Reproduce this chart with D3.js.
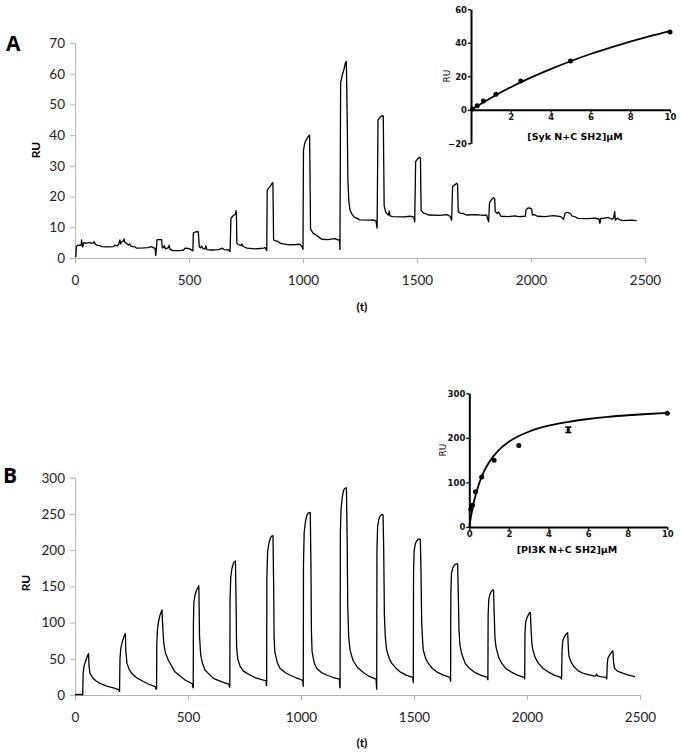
<!DOCTYPE html>
<html><head><meta charset="utf-8">
<script src="https://cdn.jsdelivr.net/npm/d3@7"></script>
<style>body{margin:0;background:#fff}svg{display:block}</style>
</head><body>
<svg id="c" width="681" height="754"></svg>
<script>
// ---------------- DATA ----------------
const xTicksMain = [0, 500, 1000, 1500, 2000, 2500];
const yTicksA = [0, 10, 20, 30, 40, 50, 60, 70];
const yTicksB = [0, 50, 100, 150, 200, 250, 300];

// Panel A sensorgram [t, RU]
const traceA = [
[0,0.4],[4,0.5],[6,3.7],[12,4.2],[22,4.1],[27,4.3],[29,5.9],[31,4.0],[34,3.6],[38,5.0],[50,4.8],[62,5.1],[70,4.8],[80,4.9],[84,5.3],[88,4.6],[95,4.2],[110,4.0],[118,3.7],[140,3.6],[168,3.7],[176,4.2],[185,3.9],[192,4.5],[197,5.9],[200,4.6],[204,5.2],[212,5.5],[215,6.2],[219,5.1],[226,4.8],[234,4.2],[240,4.6],[244,3.9],[255,3.7],[263,3.6],[270,3.2],[300,3.3],[320,3.4],[335,3.7],[345,3.3],[351,3.2],[354,0.8],[357,3.0],[360,6.0],[370,6.0],[380,6.0],[383,3.3],[388,3.5],[392,4.0],[396,3.0],[410,3.4],[413,4.2],[417,2.8],[430,2.4],[460,2.4],[476,2.6],[483,3.2],[497,3.1],[505,2.9],[517,2.3],[519,8.1],[525,8.4],[535,8.6],[541,8.5],[545,3.7],[550,3.3],[555,3.9],[560,3.2],[570,2.9],[574,3.9],[578,2.7],[600,2.6],[630,2.7],[647,3.2],[655,2.7],[675,2.6],[680,2.1],[684,12.8],[690,13.5],[698,14.0],[704,14.3],[706,15.4],[708,14.2],[710,4.8],[716,4.4],[728,4.0],[732,4.6],[736,3.9],[745,3.5],[755,3.2],[790,3.0],[810,3.1],[827,3.2],[834,3.4],[841,2.4],[843,22.0],[850,22.8],[857,23.4],[864,24.3],[868,24.5],[871,5.9],[880,5.6],[892,5.3],[900,4.8],[914,4.6],[940,4.3],[970,4.4],[987,4.5],[997,3.5],[1000,2.8],[1002,35.0],[1008,37.5],[1018,39.0],[1026,39.8],[1029,40.0],[1033,9.5],[1040,8.6],[1045,8.0],[1053,7.7],[1060,7.3],[1070,6.8],[1082,6.1],[1110,6.0],[1130,6.2],[1140,6.3],[1148,6.1],[1155,5.8],[1160,6.0],[1162,2.8],[1165,57.0],[1172,59.5],[1180,61.5],[1186,63.5],[1190,64.0],[1194,45.0],[1197,25.0],[1201,18.5],[1206,15.6],[1215,14.2],[1225,13.3],[1235,13.0],[1250,12.4],[1290,12.3],[1308,12.4],[1320,12.0],[1325,9.7],[1329,45.0],[1338,45.8],[1348,46.4],[1352,46.2],[1356,17.0],[1362,15.1],[1370,14.2],[1375,14.0],[1378,15.3],[1382,13.7],[1393,13.5],[1440,13.4],[1470,13.6],[1486,13.3],[1490,11.8],[1494,31.4],[1502,32.2],[1512,32.8],[1515,32.5],[1518,15.6],[1528,14.6],[1535,14.5],[1550,14.0],[1600,13.9],[1630,14.1],[1645,13.6],[1652,12.3],[1656,23.2],[1665,23.8],[1674,24.3],[1678,24.0],[1681,15.1],[1690,14.6],[1700,14.5],[1717,14.0],[1760,14.1],[1790,13.9],[1805,14.0],[1814,11.8],[1818,18.0],[1826,19.0],[1836,19.6],[1841,19.2],[1843,15.1],[1852,14.5],[1858,15.0],[1863,14.3],[1868,13.6],[1900,13.5],[1930,13.7],[1945,13.5],[1975,13.6],[1978,15.6],[1985,16.2],[1995,16.3],[2003,15.9],[2006,14.0],[2015,14.1],[2028,13.6],[2060,13.5],[2100,13.8],[2130,13.5],[2143,12.6],[2149,14.5],[2160,14.9],[2168,14.6],[2174,14.4],[2181,13.6],[2191,13.5],[2206,12.9],[2250,12.8],[2280,13.0],[2298,12.7],[2302,11.3],[2306,12.9],[2318,12.9],[2340,13.2],[2355,12.6],[2362,13.0],[2367,15.1],[2370,12.3],[2378,13.0],[2390,12.4],[2405,12.2],[2440,12.3],[2463,12.2]
];

// Panel B sensorgram [t, RU]
const traceB = [
[0,0.5],[20,0.8],[33,0.5],
[34,0],[36,30],[40,40],[46,46],[52,51],[58,56],[60,57],[62,40],[66,30],[80,23],[95,19],[111,16],[140,12.3],[170,9.7],[193,7.5],[196,5],
[197,5],[199,50],[203,65],[209,73],[215,79],[221,84],[223,85],[225,60],[230,44],[240,35],[251,30],[270,24.5],[288,21],[324,15.2],[355,11.5],[359,8],
[361,8],[362,70],[365,90],[370,102],[376,110],[382,115],[385,117.5],[388,95],[393,71],[400,58],[413,48],[442,32],[487,20.7],[519,15.5],[522,10],
[523,10],[524,100],[526,128],[531,138],[538,145],[545,149],[548,151],[551,81],[556,56],[563,45],[575,34.6],[612,23],[650,18],[680,15],[684,11],
[685,11],[686,130],[689,162],[694,174],[700,181],[705,184],[710,185],[713,120],[715,66],[720,50],[730,40],[745,33],[774,27.6],[800,23.5],[833,20.7],[845,19.5],[847,13],
[848,13],[849,160],[852,196],[857,208],[863,215],[868,219],[876,220],[879,150],[881,80],[884,60],[895,45],[907,37],[930,31],[951,27.6],[980,23.5],[1003,20.7],[1008,19.5],[1010,12],
[1011,180],[1014,224],[1019,238],[1025,247],[1031,251],[1041,252],[1044,180],[1046,90],[1049,60],[1058,45],[1069,37],[1090,31],[1113,27.6],[1140,24.5],[1170,22],[1172,10],
[1173,10],[1174,220],[1177,256],[1182,272],[1188,282],[1193,285],[1201,286],[1204,220],[1207,120],[1211,80],[1217,62],[1230,48],[1250,38],[1276,31],[1300,26],[1332,22],[1335,8],
[1336,200],[1339,232],[1344,242],[1350,247],[1356,249],[1363,249],[1366,200],[1369,110],[1373,80],[1379,62],[1391,50],[1401,44],[1420,37],[1438,32],[1465,27.5],[1494,24.4],[1497,17],
[1498,170],[1501,200],[1506,209],[1512,213],[1520,215],[1528,215],[1531,170],[1534,100],[1538,75],[1541,62],[1552,50],[1563,44],[1580,37],[1600,32],[1630,27.5],[1659,24.4],[1662,19],
[1663,140],[1666,168],[1671,175],[1678,179],[1686,181],[1693,181],[1696,140],[1699,90],[1703,70],[1710,58],[1726,44],[1745,37],[1765,32],[1795,27.5],[1824,24.4],[1827,21],
[1828,110],[1831,132],[1836,139],[1842,143],[1848,145],[1852,145],[1855,110],[1858,80],[1862,68],[1866,62],[1876,51],[1888,44],[1905,37],[1929,32],[1958,27.5],[1987,24.4],[1990,22],
[1991,85],[1994,100],[1999,106],[2005,110],[2011,113.5],[2015,114],[2018,90],[2022,70],[2026,62],[2036,52],[2050,44],[2070,37],[2094,32],[2120,27.5],[2149,24.4],[2153,22],
[2155,60],[2158,74],[2163,79],[2169,82.5],[2176,85],[2180,86],[2183,65],[2186,53],[2196,45],[2208,39],[2228,33],[2249,30],[2280,27.5],[2300,26],[2305,27],[2308,29],[2311,26.5],[2330,25],[2350,24.4],[2353,22],
[2355,42],[2358,50.7],[2363,54],[2370,57],[2376,60],[2380,61.3],[2383,45],[2387,37],[2400,33],[2426,30],[2450,27.5],[2478,25.3]
];

// Inset A: Syk binding
const concA = [0.078, 0.3125, 0.625, 1.25, 2.5, 5, 10];
const ruA = [0.5, 2.4, 5.2, 9.3, 17.2, 29.2, 46.5];
const fitAx = [0, 1, 2, 3, 4, 5, 6, 7, 8, 9, 10];
const fitAy = [0, 7.1, 13.5, 19.2, 24.3, 29.0, 33.3, 37.1, 40.7, 44.0, 47.0];
const insetAxTicks = [2, 4, 6, 8, 10];
const insetAyTicks = [-20, 0, 20, 40, 60];

// Inset B: PI3K binding
const concB = [0.078, 0.156, 0.3125, 0.625, 1.25, 2.5, 5, 10];
const ruB = [40, 49, 79, 112, 150, 183, 218, 255];
const errB = [0, 0, 0, 0, 0, 0, 6, 0];
const fitBx = [0, 0.1, 0.25, 0.5, 0.75, 1, 1.5, 2, 2.5, 3, 4, 5, 6, 7, 8, 9, 10];
const fitBy = [0, 27.3, 59.5, 98.1, 125.2, 145.3, 173.0, 191.2, 204.2, 213.8, 227.2, 236.0, 242.3, 247.1, 250.7, 253.6, 256.0];
const insetBxTicks = [0, 2, 4, 6, 8, 10];
const insetByTicks = [0, 100, 200, 300];

// ---------------- DRAW ----------------
const svg = d3.select("#c");
const mainFont = "Lato, 'Open Sans', sans-serif";
const insetFont = "'DejaVu Sans', 'Liberation Sans', sans-serif";
const gray = "#b5b5b5";

function mainPanel(o) {
  const x = d3.scaleLinear().domain([0, 2500]).range([75, o.xEnd]);
  const y = d3.scaleLinear().domain(o.yDom).range([o.y0, o.yTop]);
  const gx = svg.append("g").attr("transform", `translate(0,${o.y0})`)
    .call(d3.axisBottom(x).tickValues(xTicksMain).tickSize(5).tickPadding(12).tickFormat(d3.format("d")));
  const gy = svg.append("g").attr("transform", `translate(75,0)`)
    .call(d3.axisLeft(y).tickValues(o.yTicks).tickSize(5).tickPadding(5).tickFormat(d3.format("d")));
  [gx, gy].forEach(g => {
    g.select(".domain").attr("stroke", gray);
    g.selectAll(".tick line").attr("stroke", gray);
    g.selectAll("text").attr("fill", "#222").style("font-family", mainFont).style("font-size", "13.5px");
  });
  const line = d3.line().x(d => x(d[0])).y(d => y(d[1]));
  svg.append("path").datum(o.data).attr("d", line).attr("fill", "none")
    .attr("stroke", "#000").attr("stroke-width", 1.3).attr("stroke-linejoin", "round");
  svg.append("text").attr("transform", `translate(${o.ruX},${o.ruY}) rotate(-90)`)
    .attr("text-anchor", "middle").style("font-family", mainFont).style("font-weight", "bold")
    .style("font-size", "12px").text("RU");
  svg.append("text").attr("x", 362).attr("y", o.tY).attr("text-anchor", "middle")
    .style("font-family", mainFont).style("font-weight", "bold").style("font-size", "12px").text("(t)");
  svg.append("text").attr("x", o.lx).attr("y", o.ly).style("font-family", "'Open Sans', sans-serif")
    .style("font-weight", "bold").style("font-size", "21px").text(o.letter);
}

mainPanel({ data: traceA, xEnd: 645, yDom: [0, 70], y0: 258, yTop: 43, yTicks: yTicksA,
  ruX: 40, ruY: 150, tY: 311, lx: 6, ly: 51, letter: "A" });
mainPanel({ data: traceB, xEnd: 640, yDom: [0, 300], y0: 695, yTop: 477.7, yTicks: yTicksB,
  ruX: 30, ruY: 583, tY: 747, lx: 3, ly: 483, letter: "B" });

function inset(o) {
  const x = d3.scaleLinear().domain([0, 10]).range([o.x0, o.x1]);
  const y = d3.scaleLinear().domain(o.yDom).range([o.yb, o.yt]);
  const g = svg.append("g");
  const gx = g.append("g").attr("transform", `translate(0,${y(0)})`)
    .call(d3.axisBottom(x).tickValues(o.xTicks).tickSize(3).tickPadding(1).tickSizeOuter(0));
  const gy = g.append("g").attr("transform", `translate(${o.x0},0)`)
    .call(d3.axisLeft(y).tickValues(o.yTicks).tickSize(3).tickPadding(1).tickSizeOuter(0));
  [gx, gy].forEach(a => {
    a.select(".domain").attr("stroke", "#000").attr("stroke-width", 2);
    a.selectAll(".tick line").attr("stroke", "#000").attr("stroke-width", 1.3);
    a.selectAll("text").attr("fill", "#111").style("font-family", insetFont)
      .style("font-weight", "bold").style("font-size", "8.5px");
  });
  const fit = o.fx.map((v, i) => [v, o.fy[i]]);
  g.append("path").datum(fit).attr("fill", "none").attr("stroke", "#000").attr("stroke-width", 1.8)
    .attr("d", d3.line().curve(d3.curveMonotoneX).x(d => x(d[0])).y(d => y(d[1])));
  const pts = o.cx.map((v, i) => ({ c: v, r: o.cy[i], e: o.err ? o.err[i] : 0 }));
  pts.filter(p => p.e > 0).forEach(p => {
    g.append("line").attr("x1", x(p.c)).attr("x2", x(p.c)).attr("y1", y(p.r - p.e)).attr("y2", y(p.r + p.e))
      .attr("stroke", "#000").attr("stroke-width", 2.2);
    [p.r - p.e, p.r + p.e].forEach(v => g.append("line").attr("x1", x(p.c) - 3).attr("x2", x(p.c) + 3)
      .attr("y1", y(v)).attr("y2", y(v)).attr("stroke", "#000").attr("stroke-width", 1.6));
  });
  g.selectAll("circle.p").data(pts).join("circle")
    .attr("cx", p => x(p.c)).attr("cy", p => y(p.r)).attr("r", p => p.e > 0 ? 1.8 : 2.5).attr("fill", "#000");
  g.append("text").attr("transform", `translate(${o.ruX},${o.ruY}) rotate(-90)`).attr("text-anchor", "middle")
    .style("font-family", insetFont).style("font-size", "9px").text("RU");
  g.append("text").attr("x", o.lblX).attr("y", o.lblY).attr("text-anchor", "middle")
    .style("font-family", insetFont).style("font-weight", "600").style("font-size", "9.5px").text(o.label);
}

inset({ x0: 471, x1: 670, yDom: [-20, 60], yb: 143.3, yt: 9.3, xTicks: insetAxTicks, yTicks: insetAyTicks,
  fx: fitAx, fy: fitAy, cx: concA, cy: ruA, ruX: 450, ruY: 76, lblX: 575, lblY: 140, label: "[Syk N+C SH2]\u03bcM" });
inset({ x0: 469.3, x1: 667.3, yDom: [0, 300], yb: 527, yt: 393.3, xTicks: insetBxTicks, yTicks: insetByTicks,
  fx: fitBx, fy: fitBy, cx: concB, cy: ruB, err: errB, ruX: 446, ruY: 450, lblX: 567, lblY: 553, label: "[PI3K N+C SH2]\u03bcM" });
</script>
</body></html>
